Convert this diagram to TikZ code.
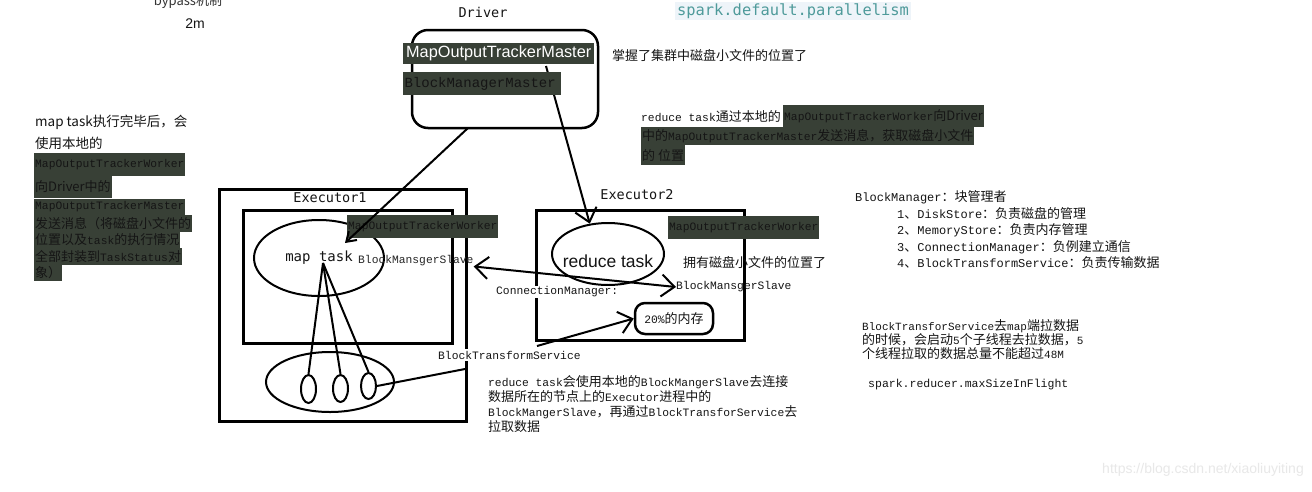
\documentclass[tikz,border=0pt]{standalone}
\usepackage{fontspec}
\setmainfont{Liberation Sans}
\newfontfamily\cjk{Noto Sans CJK SC}
\newfontfamily\mono{Liberation Mono}
\newfontfamily\smono{DejaVu Sans Mono}
\usetikzlibrary{shapes.geometric,arrows.meta}
\definecolor{hl}{HTML}{384036}
\definecolor{ink}{HTML}{151515}
\definecolor{sparkteal}{HTML}{4E9A9A}
\definecolor{sparkbg}{HTML}{EEF4F9}
\newcommand\zh[1]{{\fontsize{13}{15}\cjk #1}}
\newcommand\mn[1]{{\fontsize{11.3}{14}\mono #1}}
\tikzset{
  every node/.style={inner sep=0pt, text=ink},
  hlbox/.style={fill=hl, anchor=west, inner xsep=1pt},
  tx/.style={anchor=west, font=\fontsize{11.3}{14}\mono},
  zhtx/.style={anchor=west, font=\fontsize{13}{15}\cjk},
  frame/.style={draw, line width=2.5pt},
  oval/.style={draw, ellipse, line width=2pt},
  conn/.style={line width=2pt},
  barbtip/.tip={Straight Barb[length=13pt,width=22pt]},
  smalltip/.tip={Straight Barb[length=9pt,width=12pt]}
}
\begin{document}
\begin{tikzpicture}[x=1pt,y=-1pt]
\useasboundingbox (0,0) rectangle (1312,491);
\fill[white] (0,0) rectangle (1312,491);

% top-left notes
\node[font=\fontsize{13}{15}\cjk, text=black!80] (bypass) at (188,2) {bypass机制};
\node[font=\fontsize{14}{16}\selectfont] (twom) at (195,24) {2m};

% spark.default.parallelism
\node[fill=sparkbg, text=sparkteal, font=\fontsize{15.4}{18}\smono, inner xsep=2pt, inner ysep=2pt] (sdp) at (793,11) {spark.default.parallelism};

% Driver
\node[font=\fontsize{13.5}{16}\smono] (driverlbl) at (483,12) {Driver};
\node[frame, rounded corners=16pt, minimum width=186pt, minimum height=98pt] (driver) at (505,79) {};

% Executor 1
\node[frame, anchor=north west, minimum width=247pt, minimum height=232pt] (exec1) at (218,188) {};
\node[font=\fontsize{13.5}{16}\smono] (exec1lbl) at (330,198) {Executor1};
\node[frame, anchor=north west, minimum width=209pt, minimum height=133pt] (exec1in) at (242,209) {};
\node[oval, minimum width=130pt, minimum height=76pt, font=\fontsize{14}{16}\smono] (maptask) at (319,258) {map task};
\node[oval, minimum width=128pt, minimum height=60pt] (pool) at (330,382) {};
\node[oval, minimum width=15pt, minimum height=28pt] (t1) at (308.5,389) {};
\node[oval, minimum width=15pt, minimum height=27pt] (t2) at (340.5,388.5) {};
\node[oval, minimum width=15pt, minimum height=26pt] (t3) at (368.5,386) {};
\coordinate (fan) at (323,263);
\draw[conn] (fan) -- (t1.north);
\draw[conn] (fan) -- (t2.north);
\draw[conn] (fan) -- (t3.north);
\coordinate (btsin) at (465,369);
\draw[conn] (t3.east) -- (btsin);

% Executor 2
\node[frame, anchor=north west, minimum width=208pt, minimum height=130pt] (exec2) at (535,209) {};
\node[font=\fontsize{13.5}{16}\smono] (exec2lbl) at (637,195) {Executor2};
\node[oval, minimum width=112pt, minimum height=62pt] (reduce) at (608,254) {};
\node[font=\fontsize{17.5}{20}\selectfont] (reducelbl) at (608,261) {reduce task};
\node[zhtx] (own) at (683,262) {拥有磁盘小文件的位置了};
\node[tx] (bms2) at (676,287) {BlockMansgerSlave};
\node[frame, rounded corners=10pt, minimum width=78pt, minimum height=31pt, fill=white, font=\fontsize{11.3}{14}\mono] (mem) at (674,318.5) {20\%\zh{的内存}};

% Driver -> reduce task (passes under BlockManagerMaster)
\coordinate (mstart) at (546,66);
\draw[conn, -barbtip] (mstart) -- (reduce.121);

% Driver highlighted labels
\node[hlbox, text=white, font=\fontsize{16.3}{18}\selectfont, minimum width=191pt, minimum height=21pt] (mapmaster) at (403,53.5) {MapOutputTrackerMaster};
\node[hlbox, font=\fontsize{14}{16}\mono, minimum width=158pt, minimum height=23pt, align=left] (bmm) at (403,83.5) {BlockManagerMaster\hspace*{4pt}};
\node[zhtx] (grasp) at (612,55) {掌握了集群中磁盘小文件的位置了};

% Workers
\node[hlbox, font=\fontsize{11.3}{14}\mono, minimum height=23pt] (mow1) at (347,226.5) {MapOutputTrackerWorker};
\node[hlbox, font=\fontsize{11.3}{14}\mono, minimum height=23pt] (mow2) at (668,227.5) {MapOutputTrackerWorker};
\node[tx, text=black!85] (bms1) at (358,261) {BlockMansgerSlave};

% Driver -> map task
\coordinate (dstart) at (468,128);
\coordinate (mtip) at (345,243);
\draw[conn, -smalltip] (dstart) -- (mtip);

% ConnectionManager link
\draw[conn, barbtip-barbtip] (bms1.south east) -- (bms2.west);
\node[tx, fill=white, inner xsep=2pt, inner ysep=1pt] (cm) at (494,292) {ConnectionManager:};

% BlockTransformService
\node[tx, fill=white, inner xsep=2pt, inner ysep=2pt] (bts) at (436,355) {BlockTransformService};
\coordinate (btsout) at (537,346);
\draw[conn, -barbtip] (btsout) -- (mem.west);

% left note
\node[anchor=west, font=\fontsize{13.5}{16}\cjk] (l1) at (35,122) {map task执行完毕后，会};
\node[anchor=west, font=\fontsize{13.5}{16}\cjk] (l2) at (35,143) {使用本地的};
\node[hlbox, font=\fontsize{11.3}{14}\mono, minimum height=23pt] (l3) at (34,164.5) {MapOutputTrackerWorker};
\node[hlbox, font=\fontsize{13}{15}\cjk, minimum height=22pt] (l4) at (34,187) {向Driver中的};
\node[hlbox, font=\fontsize{11.3}{14}\mono, minimum height=16.6pt] (l5) at (34,207) {MapOutputTrackerMaster};
\node[hlbox, font=\fontsize{13}{15}\cjk, minimum height=16.6pt] (l6) at (34,223.5) {发送消息（将磁盘小文件的};
\node[hlbox, font=\fontsize{13}{15}\cjk, minimum height=16.6pt] (l7) at (34,240) {位置以及\mn{task}的执行情况};
\node[hlbox, font=\fontsize{13}{15}\cjk, minimum height=16.6pt] (l8) at (34,256.5) {全部封装到\mn{TaskStatus}对};
\node[hlbox, font=\fontsize{13}{15}\cjk, minimum height=16.6pt] (l9) at (34,273) {象）};

% right note (reduce task ...)
\node[tx] (r1a) at (641,117) {reduce task\zh{通过本地的}};
\node[hlbox, minimum height=22pt] (r1b) at (783,116) {\mn{MapOutputTrackerWorker}\zh{向Driver}};
\node[hlbox, minimum height=18pt] (r2) at (641,136) {\zh{中的}\mn{MapOutputTrackerMaster}\zh{发送消息，获取磁盘小文件}};
\node[hlbox, minimum height=20pt] (r3) at (641,155) {\zh{的 位置}};

% BlockManager list
\node[anchor=north west, align=left, font=\fontsize{12}{16.5}\mono] (bmlist) at (855,190.5) {BlockManager\zh{：块管理者}\\
\hspace*{42pt}1\zh{、}DiskStore\zh{：负责磁盘的管理}\\
\hspace*{42pt}2\zh{、}MemoryStore\zh{：负责内存管理}\\
\hspace*{42pt}3\zh{、}ConnectionManager\zh{：负例建立通信}\\
\hspace*{42pt}4\zh{、}BlockTransformService\zh{：负责传输数据}};

% BlockTransforService note
\node[anchor=north west, align=left, font=\fontsize{11}{14}\mono] (btsnote) at (862,319.5) {BlockTransforService\zh{去}map\zh{端拉数据}\\
\zh{的时候，会启动}5\zh{个子线程去拉数据，}5\\
\zh{个线程拉取的数据总量不能超过}48M};
\node[anchor=west, font=\fontsize{11.5}{14}\mono] (maxsize) at (868,385) {spark.reducer.maxSizeInFlight};

% bottom note
\node[anchor=north west, align=left, font=\fontsize{11.3}{15}\mono] (btm) at (488,375.5) {reduce task\zh{会使用本地的}BlockMangerSlave\zh{去连接}\\
\zh{数据所在的节点上的}Executor\zh{进程中的}\\
BlockMangerSlave\zh{，再通过}BlockTransforService\zh{去}\\
\zh{拉取数据}};

% watermark
\node[anchor=east, text=black!9, font=\fontsize{14}{16}\selectfont] (wm) at (1304,470) {https://blog.csdn.net/xiaoliuyiting};
\end{tikzpicture}
\end{document}
